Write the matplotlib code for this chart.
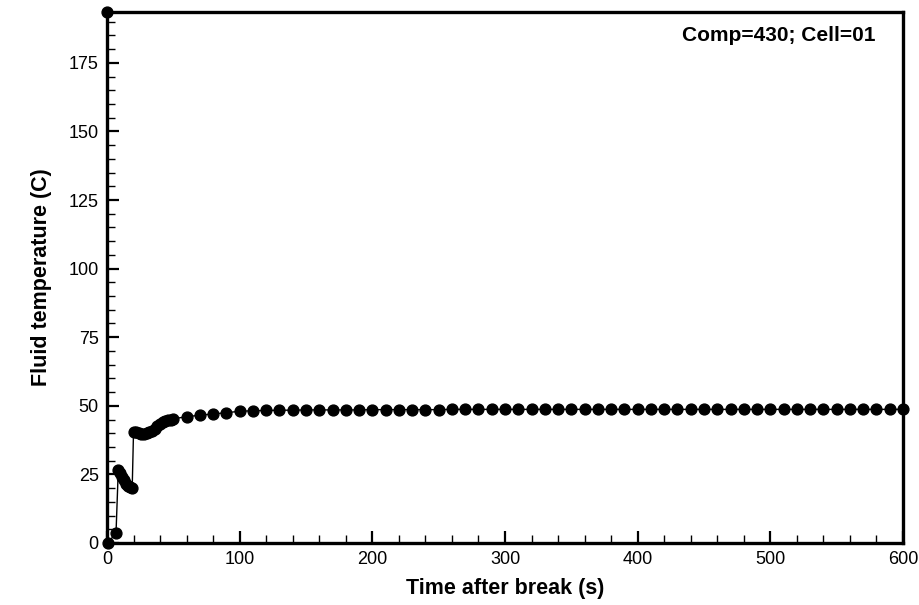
import matplotlib
matplotlib.use("Agg")
import matplotlib.pyplot as plt
from matplotlib.ticker import MultipleLocator

# Time after break (s)
time_early = [0, 0.5, 6.8, 8.5, 10, 11.5, 13, 14.5, 16, 17.5, 19,
              20, 22, 24, 26, 28, 30, 32, 34, 36, 38, 40, 42, 44, 46, 48, 50]
temp_early = [193.5, 0, 3.6, 26.6, 25.5, 24.2, 22.8, 21.6, 20.8, 20.3, 20.0,
              40.6, 40.3, 40.0, 39.8, 39.8, 40.0, 40.3, 40.8, 41.5, 42.5, 43.4, 44.0, 44.5, 44.8, 45.0, 45.3]

time_late = [60, 70, 80, 90, 100, 110, 120, 130, 140, 150, 160, 170, 180, 190, 200,
             210, 220, 230, 240, 250, 260, 270, 280, 290, 300, 310, 320, 330, 340, 350,
             360, 370, 380, 390, 400, 410, 420, 430, 440, 450, 460, 470, 480, 490, 500,
             510, 520, 530, 540, 550, 560, 570, 580, 590, 600]
temp_late = [46.0, 46.6, 47.0, 47.5, 48.0, 48.2, 48.3, 48.4, 48.4, 48.5, 48.5, 48.5, 48.5, 48.5, 48.6,
             48.6, 48.6, 48.6, 48.6, 48.6, 48.7, 48.7, 48.7, 48.7, 48.7, 48.7, 48.7, 48.7, 48.7, 48.7,
             48.7, 48.7, 48.7, 48.7, 48.7, 48.7, 48.7, 48.7, 48.7, 48.7, 48.7, 48.7, 48.7, 48.7, 48.7,
             48.7, 48.7, 48.7, 48.7, 48.7, 48.7, 48.7, 48.7, 48.7, 48.7]

times = time_early + time_late
temps = temp_early + temp_late

plt.rcParams['font.family'] = ['Liberation Sans', 'DejaVu Sans']

fig = plt.figure(figsize=(9.2, 6.05), dpi=100)
ax = fig.add_axes([0.1163, 0.1025, 0.8652, 0.8775])

ax.plot(times, temps, color='black', linewidth=1.0, marker='o', markersize=7.8,
        markerfacecolor='black', markeredgecolor='black', clip_on=False, zorder=3)

ax.set_xlim(0, 600)
ax.set_ylim(0, 193.5)
ax.xaxis.set_major_locator(MultipleLocator(100))
ax.xaxis.set_minor_locator(MultipleLocator(20))
ax.yaxis.set_major_locator(MultipleLocator(25))
ax.yaxis.set_minor_locator(MultipleLocator(5))

ax.tick_params(axis='both', which='major', direction='in', length=8.5, width=1.6,
               labelsize=13, pad=6, top=False, right=False)
ax.tick_params(axis='both', which='minor', direction='in', length=6, width=1.0,
               top=False, right=False)
for s in ax.spines.values():
    s.set_linewidth(2.4)

ax.set_xlabel('Time after break (s)', fontsize=15.5, fontweight='bold', labelpad=7)
ax.set_ylabel('Fluid temperature (C)', fontsize=15.5, fontweight='bold', labelpad=12)

ax.text(0.9655, 0.955, 'Comp=430; Cell=01', transform=ax.transAxes, ha='right', va='center',
        fontsize=15, fontweight='bold')

fig.savefig('out.png', dpi=100)
